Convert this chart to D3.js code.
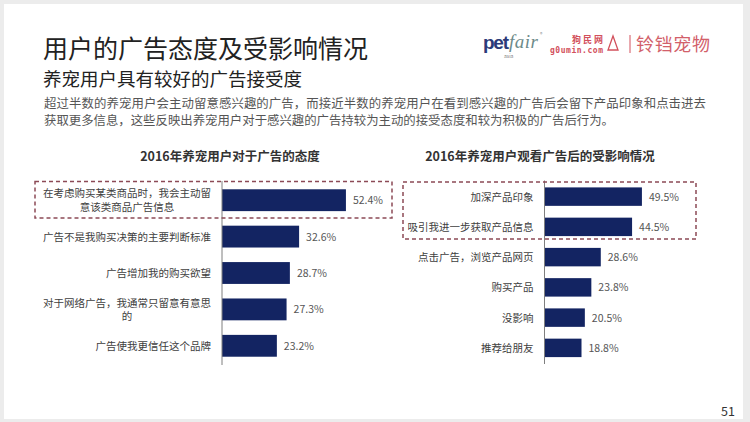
<!DOCTYPE html>
<html><head><meta charset="utf-8">
<script src="https://cdn.jsdelivr.net/npm/d3@7"></script>
<style>
html,body{margin:0;padding:0;background:#ececec;}
svg{display:block;font-family:"Noto Sans CJK SC","Noto Sans",sans-serif;}
</style></head>
<body>
<svg id="c" width="750" height="422"></svg>
<script>
const leftCats = ["在考虑购买某类商品时，我会主动留\n意该类商品广告信息","广告不是我购买决策的主要判断标准","广告增加我的购买欲望","对于网络广告，我通常只留意有意思\n的","广告使我更信任这个品牌"];
const leftVals = [52.4, 32.6, 28.7, 27.3, 23.2];
const rightCats = ["加深产品印象","吸引我进一步获取产品信息","点击广告，浏览产品网页","购买产品","没影响","推荐给朋友"];
const rightVals = [49.5, 44.5, 28.6, 23.8, 20.5, 18.8];
const title = "用户的广告态度及受影响情况";
const subtitle = "养宠用户具有较好的广告接受度";
const bodyLines = ["超过半数的养宠用户会主动留意感兴趣的广告，而接近半数的养宠用户在看到感兴趣的广告后会留下产品印象和点击进去","获取更多信息，这些反映出养宠用户对于感兴趣的广告持较为主动的接受态度和较为积极的广告后行为。"];
const leftTitle = "2016年养宠用户对于广告的态度";
const rightTitle = "2016年养宠用户观看广告后的受影响情况";

const svg = d3.select("#c");
svg.append("rect").attr("x",4).attr("y",4).attr("width",739).attr("height",415).attr("fill","#fff");

svg.append("text").attr("x",43).attr("y",58).attr("font-size",25).attr("fill","#222").text(title);
svg.append("text").attr("x",43).attr("y",86).attr("font-size",18.5).attr("fill","#222").text(subtitle);
bodyLines.forEach((l,i)=>svg.append("text").attr("x",44).attr("y",108+i*17).attr("font-size",12.4).attr("fill","#555").attr("textLength", i===0?662:null).text(l));

// logos
const lg = svg.append("g");
lg.append("text").attr("x",483).attr("y",49).attr("font-size",19).attr("font-weight",700).attr("fill","#2b3a78").attr("font-family","Liberation Sans, sans-serif").attr("letter-spacing",-1).attr("textLength",25).text("pet");
lg.append("text").attr("x",509).attr("y",48).attr("font-size",19).attr("font-style","italic").attr("fill","#6d8a8a").attr("font-family","Liberation Serif, serif").attr("textLength",29).text("fair");
lg.append("text").attr("x",540).attr("y",36).attr("font-size",5).attr("fill","#888").text("®");
lg.append("text").attr("x",504).attr("y",58).attr("font-size",5).attr("fill","#777").text("asia");
lg.append("text").attr("x",572).attr("y",43).attr("font-size",9).attr("font-weight",700).attr("fill","#d2505c").attr("textLength",31).text("狗民网");
lg.append("text").attr("x",550).attr("y",53).attr("font-size",8).attr("font-weight",700).attr("fill","#d2505c").attr("font-family","DejaVu Sans Mono, monospace").attr("textLength",53).text("g0umin.com");
lg.append("path").attr("d","M613,36 L608,50 L618,50 Z").attr("fill","none").attr("stroke","#d2505c").attr("stroke-width",1.3);
lg.append("line").attr("x1",630).attr("x2",630).attr("y1",35).attr("y2",53).attr("stroke","#d2505c").attr("stroke-width",1);
lg.append("text").attr("x",636).attr("y",51).attr("font-size",18).attr("fill","#d2606a").attr("textLength",74).text("铃铛宠物");

svg.append("text").attr("x",735).attr("y",416).attr("text-anchor","end").attr("font-size",12.5).attr("fill","#333").text("51");

function drawChart(cfg){
  const g = svg.append("g");
  const y = d3.scaleBand().domain(cfg.cats).range([cfg.y0, cfg.y1]).paddingInner(cfg.pad).paddingOuter(cfg.pad/2);
  const x = d3.scaleLinear().domain([0,100]).range([cfg.x0, cfg.x0 + cfg.k*100]);
  g.append("text").attr("x",cfg.tx).attr("y",161).attr("text-anchor","middle").attr("font-size",12.5).attr("font-weight",700).attr("fill","#333").text(cfg.title);
  g.selectAll("rect.bar").data(cfg.vals).join("rect").attr("class","bar")
    .attr("x",x(0)).attr("y",(d,i)=>y(cfg.cats[i])).attr("width",d=>x(d)-x(0)).attr("height",y.bandwidth()).attr("fill","#132462");
  g.selectAll("text.val").data(cfg.vals).join("text").attr("class","val")
    .attr("x",d=>x(d)+7).attr("y",(d,i)=>y(cfg.cats[i])+y.bandwidth()/2+4).attr("font-size",10.5).attr("fill","#555").text(d=>d.toFixed(1)+"%");
  g.append("line").attr("x1",x(0)).attr("x2",x(0)).attr("y1",cfg.y0-1).attr("y2",cfg.y1+1).attr("stroke","#7f7f7f").attr("stroke-width",1);
  cfg.cats.forEach((c,i)=>{
    const lines = c.split("\n");
    const cy = y(c)+y.bandwidth()/2;
    const rx = x(0)-11;
    if(lines.length===1){
      g.append("text").attr("x",rx).attr("y",cy+4).attr("text-anchor","end").attr("font-size",10.5).attr("fill","#404040").text(c);
    } else {
      const t = g.append("text").attr("font-size",10.5).attr("fill","#404040").attr("text-anchor","middle");
      const tmp = g.append("text").attr("font-size",10.5).text(lines[0]);
      const w = tmp.node().getComputedTextLength(); tmp.remove();
      lines.forEach((l,j)=>t.append("tspan").attr("x",rx-w/2).attr("y",cy+4+(j-(lines.length-1)/2)*13.5).text(l));
    }
  });
  g.append("rect").attr("x",cfg.bx[0]).attr("y",cfg.bx[1]).attr("width",cfg.bx[2]).attr("height",cfg.bx[3])
    .attr("fill","none").attr("stroke","#8c4a56").attr("stroke-width",1.5).attr("stroke-dasharray","4,3");
}
drawChart({cats:leftCats, vals:leftVals, y0:182, y1:364, pad:0.4, x0:222, k:2.365, tx:230, title:leftTitle, bx:[35,181.5,357,36.5]});
drawChart({cats:rightCats, vals:rightVals, y0:181.5, y1:363, pad:0.39, x0:544.5, k:1.968, tx:540, title:rightTitle, bx:[403,182,293,57]});
</script>
</body></html>
